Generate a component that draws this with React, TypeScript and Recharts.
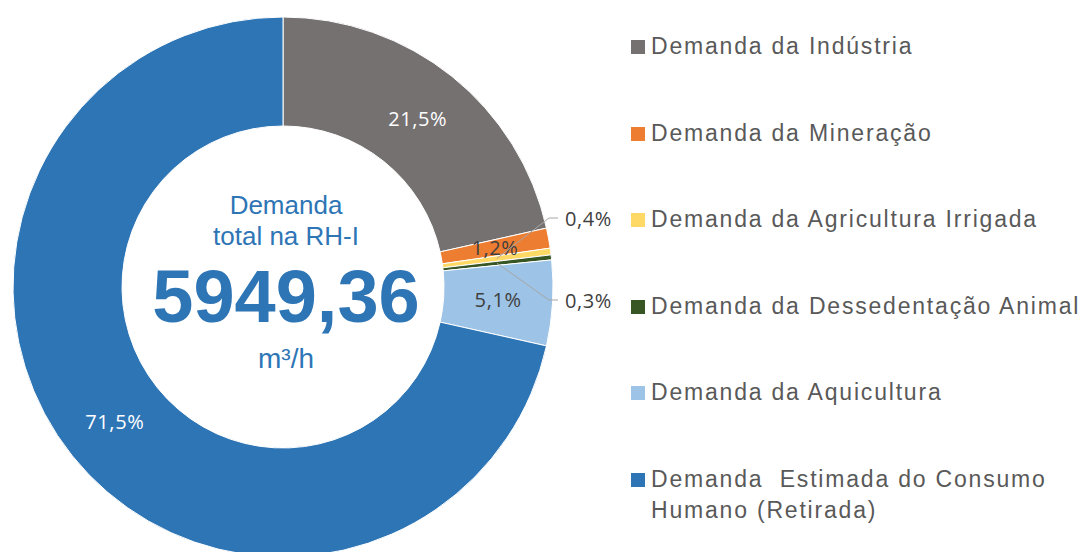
import React from 'react';
import { PieChart, Pie, Cell, Legend } from 'recharts';

const categories = [
  'Demanda da Indústria',
  'Demanda da Mineração',
  'Demanda da Agricultura Irrigada',
  'Demanda da Dessedentação Animal',
  'Demanda da Aquicultura',
  'Demanda  Estimada do Consumo Humano (Retirada)',
];
const shares = [21.5, 1.2, 0.4, 0.3, 5.1, 71.5];
const shareLabels = ['21,5%', '1,2%', '0,4%', '0,3%', '5,1%', '71,5%'];
const colors = ['#767171', '#ED7D31', '#FFD966', '#375623', '#9DC3E6', '#2E75B6'];
const labelColors = ['#FFFFFF', '#404040', '#404040', '#404040', '#404040', '#FFFFFF'];
const totalLines = ['Demanda', 'total na RH-I'];
const totalValue = '5949,36';
const totalUnit = 'm³/h';

const data = categories.map((name, i) => ({ name, value: shares[i] }));

const RAD = Math.PI / 180;
// slices whose label sits outside the ring, with a leader line
const outsideOffsets: Record<number, number> = { 2: -69, 3: 13 };

const renderLabel = (props: any) => {
  const { cx, cy, midAngle, innerRadius, outerRadius, index } = props;
  const r = (innerRadius + outerRadius) / 2;
  const x = cx + r * Math.cos(-midAngle * RAD);
  const y = cy + r * Math.sin(-midAngle * RAD);
  const font = { fontFamily: '"Open Sans", sans-serif', fontSize: 20, letterSpacing: 0.6 };
  if (outsideOffsets[index] !== undefined) {
    const ly = cy + outsideOffsets[index];
    const ex = cx + outerRadius - 4;
    return (
      <g key={`lbl-${index}`}>
        <polyline
          points={`${x},${y} ${ex},${ly} ${ex + 9},${ly}`}
          fill="none"
          stroke="#A6A6A6"
          strokeWidth={1}
        />
        <text x={ex + 16} y={ly} fill={labelColors[index]} dominantBaseline="central" {...font}>
          {shareLabels[index]}
        </text>
      </g>
    );
  }
  return (
    <text
      key={`lbl-${index}`}
      x={x}
      y={y}
      fill={labelColors[index]}
      textAnchor="middle"
      dominantBaseline="central"
      {...font}
    >
      {shareLabels[index]}
    </text>
  );
};

const renderLegend = () => (
  <div style={{ fontFamily: '"Liberation Sans", Arial, sans-serif', color: '#595959' }}>
    {categories.map((c, i) => (
      <div key={c} style={{ display: 'flex', alignItems: 'flex-start', height: 86.6 }}>
        <span
          style={{
            display: 'inline-block',
            width: 14,
            height: 14,
            background: colors[i],
            marginTop: 9,
            marginRight: 6,
            flex: 'none',
          }}
        />
        <span
          style={{
            fontSize: 23,
            lineHeight: '31px',
            letterSpacing: 1.8,
            whiteSpace: 'pre-wrap',
            width: 440,
          }}
        >
          {c}
        </span>
      </div>
    ))}
  </div>
);

const App = () => {
  const cx = 283;
  const cy = 287;
  return (
    <div style={{ position: 'absolute', left: 0, top: 0, width: 1086, height: 552, background: '#fff', overflow: 'hidden' }}>
      <PieChart width={1086} height={552} margin={{ top: 0, right: 0, bottom: 0, left: 0 }}>
        <Pie
          data={data}
          dataKey="value"
          nameKey="name"
          cx={cx}
          cy={cy}
          innerRadius={161}
          outerRadius={270}
          startAngle={90}
          endAngle={-270}
          stroke="#FFFFFF"
          strokeWidth={1}
          label={renderLabel}
          labelLine={false}
          isAnimationActive={false}
        >
          {data.map((d, i) => (
            <Cell key={d.name} fill={colors[i]} />
          ))}
        </Pie>
        <Legend
          content={renderLegend}
          layout="vertical"
          verticalAlign="top"
          align="right"
          wrapperStyle={{ left: 631, top: 31, width: 455 }}
        />
        <text x={cx + 3} y={205} textAnchor="middle" dominantBaseline="central" fill="#2E75B6" fontFamily='"Liberation Sans", Arial, sans-serif' fontSize={26}>
          {totalLines[0]}
        </text>
        <text x={cx + 3} y={236} textAnchor="middle" dominantBaseline="central" fill="#2E75B6" fontFamily='"Liberation Sans", Arial, sans-serif' fontSize={26}>
          {totalLines[1]}
        </text>
        <text x={cx + 3} y={296} textAnchor="middle" dominantBaseline="central" fill="#2E75B6" fontFamily='"Liberation Sans", Arial, sans-serif' fontSize={74} fontWeight="bold">
          {totalValue}
        </text>
        <text x={cx + 3} y={358} textAnchor="middle" dominantBaseline="central" fill="#2E75B6" fontFamily='"Liberation Sans", Arial, sans-serif' fontSize={28}>
          {totalUnit}
        </text>
      </PieChart>
    </div>
  );
};

export default App;
